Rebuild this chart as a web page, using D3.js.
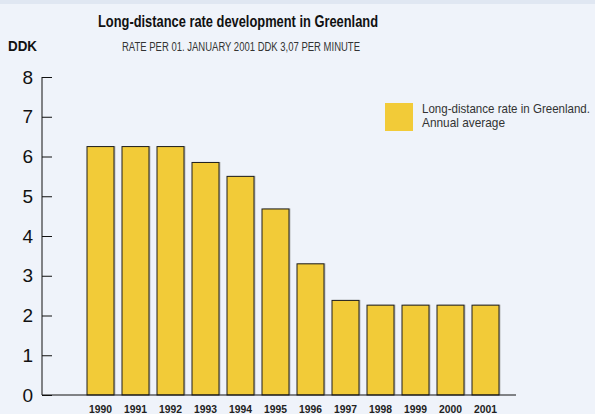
<!DOCTYPE html>
<html>
<head>
<meta charset="utf-8">
<script src="https://cdn.jsdelivr.net/npm/d3@7"></script>
<style>
  body { margin: 0; background: #eff3fa; }
  svg { display: block; }
</style>
</head>
<body>
<div id="graph"></div>
<script>
const years = ["1990","1991","1992","1993","1994","1995","1996","1997","1998","1999","2000","2001"]
const rates = [6.25, 6.25, 6.25, 5.85, 5.5, 4.68, 3.3, 2.38, 2.26, 2.26, 2.26, 2.26]
const yTicks = [0, 1, 2, 3, 4, 5, 6, 7, 8]
const titleText = "Long-distance rate development in Greenland"
const subtitleText = "RATE PER 01. JANUARY 2001 DDK 3,07 PER MINUTE"
const unitText = "DDK"
const legendLines = ["Long-distance rate in Greenland.", "Annual average"]

const width = 595
const height = 414
// no condensed font installed, so text is squeezed with textLength
const sans = "'Liberation Sans', Arial, sans-serif"

const svg = d3.select("#graph").append("svg")
  .attr("width", width)
  .attr("height", height)

// background + top strip
svg.append("rect").attr("width", width).attr("height", height).attr("fill", "#eff3fa")
svg.append("rect").attr("width", width).attr("height", 4).attr("fill", "#e0e7f2")

const x = d3.scaleBand()
  .domain(years)
  .range([83, 503])
  .paddingInner(0.229)
  .paddingOuter(0.1145)

const y = d3.scaleLinear().domain([0, 8]).range([395, 77])

// bars (with a soft shadow)
const bars = svg.append("g")
bars.selectAll("rect.shadow")
  .data(rates)
  .enter()
  .append("rect")
  .attr("class", "shadow")
  .attr("x", (d, i) => x(years[i]) + 1.5)
  .attr("y", d => y(d) - 0.5)
  .attr("width", x.bandwidth())
  .attr("height", d => y(0) - y(d))
  .attr("fill", "#b0b0b0")
  .attr("opacity", 0.8)

bars.selectAll("rect.bar")
  .data(rates)
  .enter()
  .append("rect")
  .attr("class", "bar")
  .attr("x", (d, i) => x(years[i]))
  .attr("y", d => y(d))
  .attr("width", x.bandwidth())
  .attr("height", d => y(0) - y(d))
  .attr("fill", "#f2cb38")
  .attr("stroke", "#1e1e1e")
  .attr("stroke-width", 1)

// y axis
const yAxis = d3.axisLeft(y).tickValues(yTicks).tickSize(-10).tickPadding(9)
const gy = svg.append("g")
  .attr("transform", "translate(42,0)")
  .call(yAxis)
gy.select(".domain").attr("stroke", "#111").attr("d", "M0," + y(8) + "V" + y(0))
gy.selectAll(".tick line").attr("stroke", "#111")
gy.selectAll("text")
  .style("font-family", sans)
  .style("font-size", "19px")
  .attr("fill", "#111")

// x baseline
svg.append("line")
  .attr("x1", 42).attr("x2", 516)
  .attr("y1", y(0)).attr("y2", y(0))
  .attr("stroke", "#111")

// year labels
svg.append("g").selectAll("text")
  .data(years)
  .enter()
  .append("text")
  .attr("x", d => x(d) + x.bandwidth() / 2)
  .attr("y", 413)
  .attr("text-anchor", "middle")
  .attr("textLength", 23)
  .attr("lengthAdjust", "spacingAndGlyphs")
  .style("font-family", sans)
  .style("font-size", "11px")
  .style("font-weight", "bold")
  .attr("fill", "#222")
  .text(d => d)

// titles
function condensed(txt, x0, y0, len, size, weight, fill) {
  svg.append("text")
    .attr("x", x0).attr("y", y0)
    .attr("textLength", len)
    .attr("lengthAdjust", "spacingAndGlyphs")
    .style("font-family", sans)
    .style("font-size", size + "px")
    .style("font-weight", weight)
    .attr("fill", fill)
    .text(txt)
}

condensed(titleText, 98, 27, 280, 16, "bold", "#111")
condensed(subtitleText, 122, 51, 238, 12, "normal", "#333")
condensed(unitText, 8, 51, 29, 15, "bold", "#111")

// legend
svg.append("rect")
  .attr("x", 385).attr("y", 103)
  .attr("width", 28).attr("height", 28)
  .attr("fill", "#f2cb38")

const legendLen = [168, 83]
legendLines.forEach((t, i) => condensed(t, 422, 113 + i * 14, legendLen[i], 13, "normal", "#333"))
</script>
</body>
</html>
